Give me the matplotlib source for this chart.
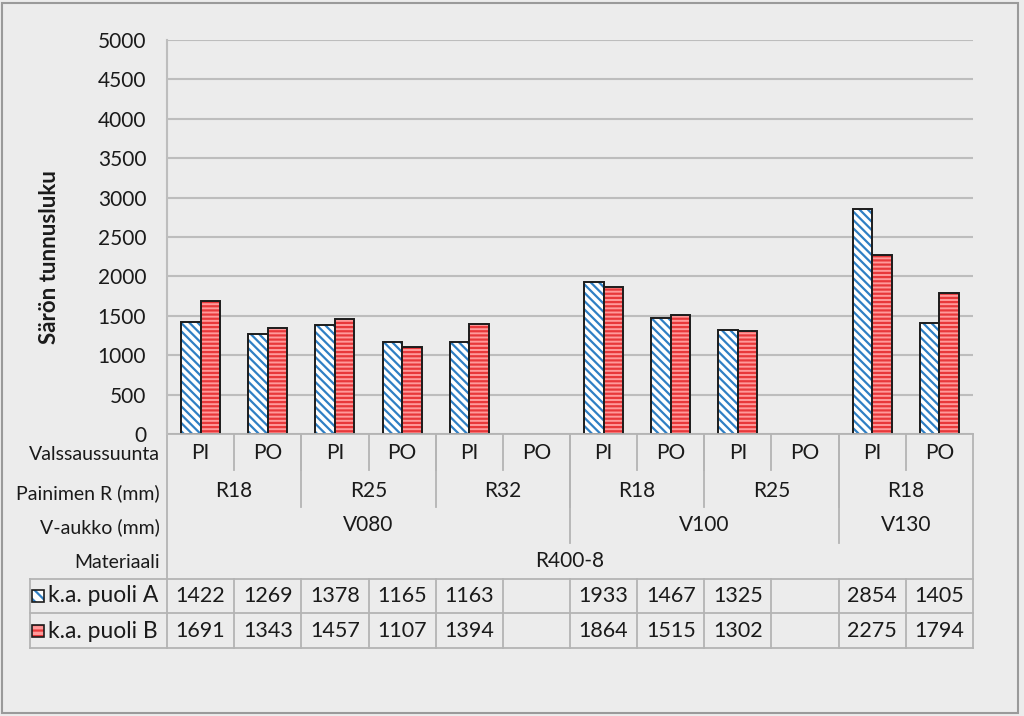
import numpy as np
import matplotlib.pyplot as plt
import matplotlib.transforms as mtransforms
from matplotlib.patches import Rectangle

plt.rcParams['font.family'] = ['Lato', 'DejaVu Sans']
plt.rcParams['hatch.linewidth'] = 1.6

# data
directions = ['PI', 'PO', 'PI', 'PO', 'PI', 'PO', 'PI', 'PO', 'PI', 'PO', 'PI', 'PO']
punch_r = [('R18', 0, 2), ('R25', 2, 4), ('R32', 4, 6), ('R18', 6, 8), ('R25', 8, 10), ('R18', 10, 12)]
v_gap = [('V080', 0, 6), ('V100', 6, 10), ('V130', 10, 12)]
material = [('R400-8', 0, 12)]
series_a = [1422, 1269, 1378, 1165, 1163, np.nan, 1933, 1467, 1325, np.nan, 2854, 1405]
series_b = [1691, 1343, 1457, 1107, 1394, np.nan, 1864, 1515, 1302, np.nan, 2275, 1794]
name_a = 'k.a. puoli A'
name_b = 'k.a. puoli B'
row_names = ['Valssaussuunta', 'Painimen R (mm)', 'V-aukko (mm)', 'Materiaali']

bg = '#ececec'
grid_c = '#bdbdbd'
line_c = '#b4b4b4'
txt_c = '#1a1a1a'
fs = 15

fig = plt.figure(figsize=(10.24, 7.16), dpi=100, facecolor=bg)
fig.patches.append(Rectangle((2 / 1024, 3 / 716), 1016 / 1024, 710 / 716, transform=fig.transFigure,
                             fill=False, edgecolor='#9a9a9a', linewidth=1.5))

ax = fig.add_axes([167 / 1024, 1 - 434 / 716, 806 / 1024, 394 / 716])
ax.set_facecolor(bg)
ax.set_xlim(0, 12)
ax.set_ylim(0, 5000)
ax.set_yticks(np.arange(0, 5001, 500))
ax.tick_params(axis='y', labelsize=fs, colors=txt_c, length=0, pad=15)
ax.set_xticks([])
ax.grid(axis='y', color=grid_c, linewidth=1.5)
ax.set_axisbelow(True)
for s in ['top', 'right', 'bottom']:
    ax.spines[s].set_visible(False)
ax.spines['left'].set_color(grid_c)
ax.spines['left'].set_linewidth(1.5)
ax.set_ylabel('Särön tunnusluku', fontsize=16, fontweight='bold', color=txt_c)
ax.yaxis.set_label_coords((60 - 167) / 806, (434 - 257) / 394)

x = np.arange(12) + 0.5
w = 0.29
# hatched fills, then outlines on top
ax.bar(x - w / 2, series_a, w, color='white', edgecolor='#2f7fc4', hatch='\\\\\\\\', linewidth=0)
ax.bar(x - w / 2, series_a, w, fill=False, edgecolor='#1c1c1c', linewidth=1.4)
ax.bar(x + w / 2, series_b, w, color='#ff9a9a', edgecolor='#e8383a', hatch='----', linewidth=0)
ax.bar(x + w / 2, series_b, w, fill=False, edgecolor='#1c1c1c', linewidth=1.4)

# category table below the axis
tr = mtransforms.blended_transform_factory(ax.transData, ax.transAxes)


def ya(ypix):
    return (434 - ypix) / 394


def vline(xv, y0, y1):
    ax.plot([xv, xv], [ya(y0), ya(y1)], transform=tr, color=line_c, lw=1.3, clip_on=False)


def hline(x0, x1, yp, trans=tr):
    ax.plot([x0, x1], [ya(yp), ya(yp)], transform=trans, color=line_c, lw=1.3, clip_on=False)


hline(0, 12, 434)
vline(0, 434, 648)
vline(12, 434, 648)
row_y = [453, 491, 525, 561]
for i in range(1, 12):
    vline(i, 434, 470)
for name, a, b in punch_r:
    if a > 0:
        vline(a, 434, 507)
for name, a, b in v_gap:
    if a > 0:
        vline(a, 434, 543)

for i, d in enumerate(directions):
    ax.text(i + 0.5, ya(row_y[0]), d, transform=tr, ha='center', va='center', fontsize=fs, color=txt_c)
for lvl, groups in enumerate([punch_r, v_gap, material]):
    for name, a, b in groups:
        ax.text((a + b) / 2, ya(row_y[lvl + 1]), name, transform=tr, ha='center', va='center',
                fontsize=fs, color=txt_c)
for rn, yp in zip(row_names, row_y):
    fig.text(160 / 1024, 1 - (yp + 2) / 716, rn, ha='right', va='center', fontsize=14, color=txt_c)

# data table rows
hline(0, 12, 579)
hline(0, 12, 613)
hline(0, 12, 648)
for i in range(1, 12):
    vline(i, 579, 648)
for yp in [579, 613, 648]:
    fig.add_artist(plt.Line2D([30 / 1024, 167 / 1024], [1 - yp / 716] * 2, color=line_c, lw=1.3))
fig.add_artist(plt.Line2D([30 / 1024] * 2, [1 - 579 / 716, 1 - 648 / 716], color=line_c, lw=1.3))

for vals, yp in [(series_a, 596), (series_b, 631)]:
    for i, v in enumerate(vals):
        if not np.isnan(v):
            ax.text(i + 0.5, ya(yp), '%d' % v, transform=tr, ha='center', va='center',
                    fontsize=fs + 0.5, color=txt_c)

for name, yp, fc, ec, h in [(name_a, 596, 'white', '#2f7fc4', '\\\\\\'),
                            (name_b, 631, '#ff9a9a', '#e8383a', '---')]:
    fig.patches.append(Rectangle((32 / 1024, 1 - (yp + 6) / 716), 12 / 1024, 12 / 716,
                                 transform=fig.transFigure, facecolor=fc, edgecolor=ec, hatch=h, lw=0))
    fig.patches.append(Rectangle((32 / 1024, 1 - (yp + 6) / 716), 12 / 1024, 12 / 716,
                                 transform=fig.transFigure, fill=False, edgecolor='#1c1c1c', lw=1.2))
    fig.text(48 / 1024, 1 - yp / 716, name, ha='left', va='center', fontsize=16.5, color=txt_c)

fig.savefig('out.png', dpi=100, facecolor=bg)
